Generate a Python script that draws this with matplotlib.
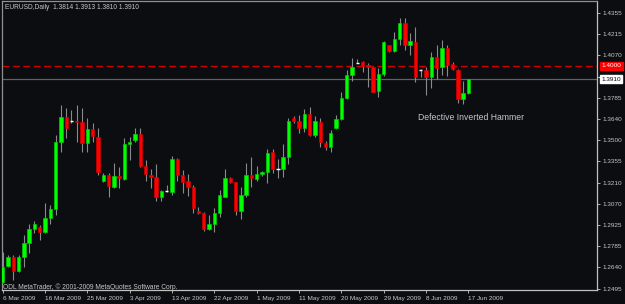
import numpy as np
import matplotlib.pyplot as plt
import matplotlib.transforms as mtransforms

# EURUSD daily candles, 6 Mar 2009 .. 17 Jun 2009
opens = [1.2544, 1.2652, 1.2712, 1.2618, 1.2712, 1.2803, 1.2897, 1.2915, 1.2881, 1.2971,
         1.3032, 1.3488, 1.3656, 1.3627, 1.3629, 1.3618, 1.3477, 1.3573, 1.3521, 1.3223,
         1.3263, 1.3184, 1.3256, 1.3236, 1.3470, 1.3499, 1.3537, 1.3324, 1.3263, 1.3252,
         1.3117, 1.3155, 1.3151, 1.3371, 1.3263, 1.3223, 1.3184, 1.3023, 1.3005, 1.2899,
         1.2933, 1.3005, 1.3117, 1.3241, 1.3214, 1.3023, 1.3128, 1.3263, 1.3238, 1.3268,
         1.3285, 1.3416, 1.3302, 1.3302, 1.3382, 1.3645, 1.3629, 1.3578, 1.3674, 1.3533,
         1.3622, 1.3481, 1.3450, 1.3578, 1.3641, 1.3780, 1.3937, 1.4020, 1.4023, 1.4005,
         1.3989, 1.3829, 1.3942, 1.4137, 1.4101, 1.4180, 1.4286, 1.4139, 1.4158, 1.3971,
         1.3971, 1.3922, 1.4056, 1.3993, 1.4121, 1.4009, 1.3971, 1.3773, 1.3814]
highs = [1.2746, 1.2724, 1.2724, 1.2724, 1.2859, 1.2933, 1.2953, 1.2926, 1.3074, 1.3061,
         1.3533, 1.3735, 1.3717, 1.3701, 1.3735, 1.3715, 1.3647, 1.3614, 1.3580, 1.3279,
         1.3279, 1.3344, 1.3319, 1.3515, 1.3521, 1.3580, 1.3580, 1.3364, 1.3304, 1.3337,
         1.3162, 1.3196, 1.3391, 1.3380, 1.3297, 1.3270, 1.3196, 1.3049, 1.3016, 1.2994,
         1.3039, 1.3162, 1.3302, 1.3252, 1.3218, 1.3184, 1.3342, 1.3386, 1.3324, 1.3290,
         1.3436, 1.3436, 1.3371, 1.3472, 1.3645, 1.3661, 1.3668, 1.3706, 1.3719, 1.3661,
         1.3645, 1.3494, 1.3566, 1.3668, 1.3821, 1.3971, 1.4050, 1.4045, 1.4031, 1.4016,
         1.3993, 1.3982, 1.4166, 1.4139, 1.4229, 1.4323, 1.4323, 1.4218, 1.4263, 1.3978,
         1.3993, 1.4094, 1.4139, 1.4173, 1.4139, 1.4023, 1.3978, 1.3897, 1.3913]
lows = [1.2535, 1.2643, 1.2555, 1.2609, 1.2643, 1.2737, 1.2872, 1.2825, 1.2872, 1.2933,
        1.2994, 1.3418, 1.3515, 1.3614, 1.3488, 1.3418, 1.3418, 1.3488, 1.3263, 1.3214,
        1.3117, 1.3176, 1.3176, 1.3229, 1.3364, 1.3488, 1.3319, 1.3223, 1.3176, 1.3090,
        1.3090, 1.3151, 1.3128, 1.3225, 1.3144, 1.3122, 1.3009, 1.3000, 1.2888, 1.2892,
        1.2881, 1.2978, 1.3113, 1.3207, 1.2994, 1.2965, 1.3117, 1.3184, 1.3225, 1.3258,
        1.3207, 1.3279, 1.3241, 1.3248, 1.3337, 1.3612, 1.3548, 1.3555, 1.3526, 1.3521,
        1.3454, 1.3432, 1.3420, 1.3573, 1.3634, 1.3775, 1.3897, 1.4016, 1.3955, 1.3858,
        1.3821, 1.3791, 1.3932, 1.4094, 1.4094, 1.4139, 1.4106, 1.4072, 1.3892, 1.3926,
        1.3802, 1.3848, 1.3910, 1.3937, 1.3932, 1.3971, 1.3746, 1.3742, 1.3810]
closes = [1.2645, 1.2712, 1.2618, 1.2712, 1.2803, 1.2897, 1.2931, 1.2881, 1.2971, 1.3032,
          1.3488, 1.3656, 1.3582, 1.3627, 1.3618, 1.3477, 1.3573, 1.3528, 1.3285, 1.3263,
          1.3191, 1.3256, 1.3241, 1.3470, 1.3488, 1.3537, 1.3324, 1.3268, 1.3250, 1.3117,
          1.3155, 1.3155, 1.3371, 1.3263, 1.3218, 1.3180, 1.3039, 1.3005, 1.2899, 1.2933,
          1.3005, 1.3128, 1.3241, 1.3214, 1.3023, 1.3128, 1.3263, 1.3241, 1.3268, 1.3285,
          1.3409, 1.3302, 1.3302, 1.3382, 1.3629, 1.3629, 1.3578, 1.3674, 1.3533, 1.3629,
          1.3488, 1.3450, 1.3548, 1.3641, 1.3780, 1.3937, 1.3993, 1.4020, 1.4000, 1.3991,
          1.3824, 1.3942, 1.4158, 1.4101, 1.4180, 1.4286, 1.4139, 1.4166, 1.3926, 1.3971,
          1.3922, 1.4056, 1.3982, 1.4121, 1.4005, 1.3978, 1.3773, 1.3814, 1.3910]

date_labels = ['6 Mar 2009', '16 Mar 2009', '25 Mar 2009', '3 Apr 2009', '13 Apr 2009',
               '22 Apr 2009', '1 May 2009', '11 May 2009', '20 May 2009', '29 May 2009',
               '8 Jun 2009', '17 Jun 2009']
price_ticks = [1.4355, 1.4215, 1.4070, 1.3925, 1.3785, 1.3640, 1.3500, 1.3355,
               1.3210, 1.3070, 1.2925, 1.2785, 1.2640, 1.2495]
resistance = 1.4000
header = 'EURUSD,Daily  1.3814 1.3913 1.3810 1.3910'
note = 'Defective Inverted Hammer'
copyright_txt = 'ODL MetaTrader, \u00a9 2001-2009 MetaQuotes Software Corp.'

bg = '#0c0d10'
txt = '#c8c8c8'
font = 'Liberation Sans'

o = np.array(opens)
h = np.array(highs)
l = np.array(lows)
c = np.array(closes)
idx = np.arange(len(o))

fig = plt.figure(figsize=(6.25, 3.04), dpi=100, facecolor=bg)
ax = fig.add_axes([2 / 625, 14 / 304, 595 / 625, 289 / 304], facecolor=bg)

# wicks
ax.vlines(idx, l, h, color='#8a8a8a', lw=0.8, zorder=2)

up = c > o
down = c < o
flat = c == o
ax.bar(idx[up], (c - o)[up], bottom=o[up], width=0.64, color='#00ff00',
       edgecolor='#00c800', lw=0.5, zorder=3)
ax.bar(idx[down], (o - c)[down], bottom=c[down], width=0.64, color='#ff0000',
       edgecolor='#d00000', lw=0.5, zorder=3)
ax.hlines(c[flat], idx[flat] - 0.32, idx[flat] + 0.32, color='white', lw=1, zorder=3)

# levels
ax.axhline(resistance, color='#d00000', lw=1.0, ls=(0, (5, 2.5)), zorder=1)
ax.axhline(c[-1], color='#5c6268', lw=0.9, zorder=1)

ax.set_xlim(-0.13, 112.3)
ax.set_ylim(1.2488, 1.4436)

ax.yaxis.tick_right()
ax.set_yticks(price_ticks)
# the tick next to the last price is hidden under its price box
ax.set_yticklabels(['' if abs(p - c[-1]) < 0.003 else f'{p:.4f}' for p in price_ticks])
ax.set_xticks(idx[::8])
ax.set_xticklabels(date_labels)
for lab in ax.get_xticklabels():
    lab.set_ha('left')
ax.tick_params(colors=txt, labelsize=4.6, length=2.5, width=0.6, pad=1.5)
for lab in ax.get_xticklabels() + ax.get_yticklabels():
    lab.set_fontfamily(font)
    lab.set_color(txt)

for side in ['bottom', 'right']:
    ax.spines[side].set_color('#c0c0c0')
    ax.spines[side].set_linewidth(0.9)
for side in ['top', 'left']:
    ax.spines[side].set_color('#909090')
    ax.spines[side].set_linewidth(0.9)

# price labels on the right
tr = mtransforms.blended_transform_factory(ax.transAxes, ax.transData)
ax.text(1.007, resistance, f'{resistance:.4f}', transform=tr, fontsize=4.6,
        family=font, color='white', va='center', ha='left', zorder=6,
        bbox=dict(boxstyle='square,pad=0.25', fc='#ff0000', ec='#ff0000'), clip_on=False)
ax.text(1.007, c[-1], f'{c[-1]:.4f}', transform=tr, fontsize=4.6,
        family=font, color='black', va='center', ha='left', zorder=6,
        bbox=dict(boxstyle='square,pad=0.25', fc='white', ec='white'), clip_on=False)

fig.text(5 / 625, 1 - 7.5 / 304, header, fontsize=4.8, family=font, color=txt,
         va='center', ha='left')
fig.text(3 / 625, 1 - 287 / 304, copyright_txt, fontsize=4.8, family=font, color=txt,
         va='center', ha='left')
ax.text(418 / 625, 1 - 117 / 304, note, transform=fig.transFigure, fontsize=6.2,
        family=font, color=txt, va='center', ha='left')

fig.savefig('out.png', dpi=100, facecolor=bg)
